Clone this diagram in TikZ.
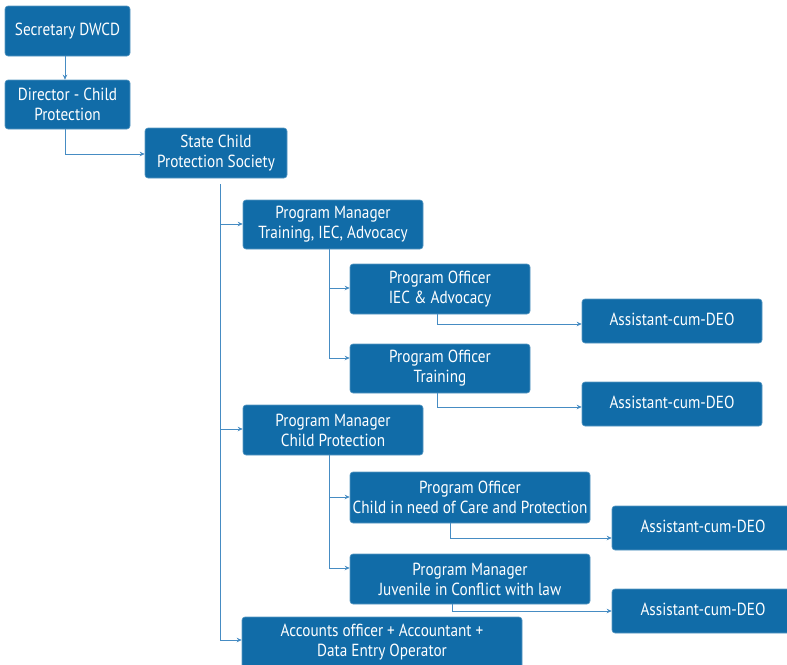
\documentclass[tikz,border=0pt]{standalone}
\usepackage{fontspec}
\setmainfont{PT Sans}[FakeStretch=0.87]
\usetikzlibrary{arrows.meta}
\definecolor{boxblue}{RGB}{17,108,168}
\definecolor{linkblue}{RGB}{70,140,195}
\tikzset{
  orgbox/.style={draw=boxblue!70!white, line width=0.6pt, fill=boxblue, text=white, rounded corners=3pt,
    align=center, inner sep=0pt, font=\fontsize{17.5}{20}\selectfont},
  link/.style={draw=linkblue, line width=0.9pt, -{Stealth[length=5pt,width=4.5pt]}},
  bar/.style={draw=linkblue, line width=0.9pt}
}
\newcommand{\bx}[7]{% name, x1, y1, x2, y2, text
  \node[orgbox, minimum width={(#4-#2)*1pt}, minimum height={(#5-#3)*1pt}] (#1) at ({(#2+#4)/2}, {(#3+#5)/2}) {#6};}
\newcommand{\deo}{\raisebox{4pt}{Assistant-cum-DEO}}
\begin{document}
\begin{tikzpicture}[x=1pt, y=-1pt]
\useasboundingbox (0,0) rectangle (787,664);
\bx{sec}{5}{6}{130}{56}{Secretary DWCD}{}
\bx{dir}{5}{80}{130}{129}{Director - Child\\Protection}{}
\bx{scps}{145}{128}{287}{178}{State Child\\Protection Society}{}
\bx{pmt}{243}{200}{423}{249}{Program Manager\\Training, IEC, Advocacy}{}
\bx{poi}{350}{264}{530}{314}{Program Officer\\IEC \& Advocacy}{}
\bx{asa}{582}{299}{762}{343}{\deo}{}
\bx{pot}{350}{344}{530}{393}{Program Officer\\Training}{}
\bx{asb}{582}{382}{762}{426}{\deo}{}
\bx{pmc}{243}{405}{423}{455}{Program Manager\\Child Protection}{}
\bx{poc}{350}{472}{590}{523}{Program Officer\\Child in need of Care and Protection}{}
\bx{asc}{612}{506}{794}{550}{\deo}{}
\bx{pmj}{350}{554}{590}{604}{Program Manager\\Juvenile in Conflict with law}{}
\bx{asd}{612}{589}{794}{633}{\deo}{}
\bx{acc}{242}{617}{522}{686}{Accounts officer + Accountant +\\Data Entry Operator\\[2pt]}{}

% chain of command at the top
\draw[link] (sec.south -| 65,0) -- (dir.north -| 65,0);
\draw[link] (dir.south -| 65,0) |- (scps.west |- 0,154);

% society branches
\coordinate (s0) at (220,184);
\draw[bar] (s0) -- (220,640);
\draw[link] (220,224) -- (pmt.west |- 0,224);
\draw[link] (220,429) -- (pmc.west |- 0,429);
\draw[link] (220,640) -- (acc.west |- 0,640);

% training / IEC branch
\draw[bar] (pmt.south -| 329,0) -- (329,358);
\draw[link] (329,288) -- (poi.west |- 0,288);
\draw[link] (329,358) -- (pot.west |- 0,358);
\draw[link] (poi.south -| 437,0) |- (asa.west |- 0,324);
\draw[link] (pot.south -| 437,0) |- (asb.west |- 0,407);

% child protection branch
\draw[bar] (pmc.south -| 329,0) -- (329,568);
\draw[link] (329,497) -- (poc.west |- 0,497);
\draw[link] (329,568) -- (pmj.west |- 0,568);
\draw[link] (poc.south -| 450,0) |- (asc.west |- 0,538);
\draw[link] (pmj.south -| 452,0) |- (asd.west |- 0,611);
\end{tikzpicture}
\end{document}
